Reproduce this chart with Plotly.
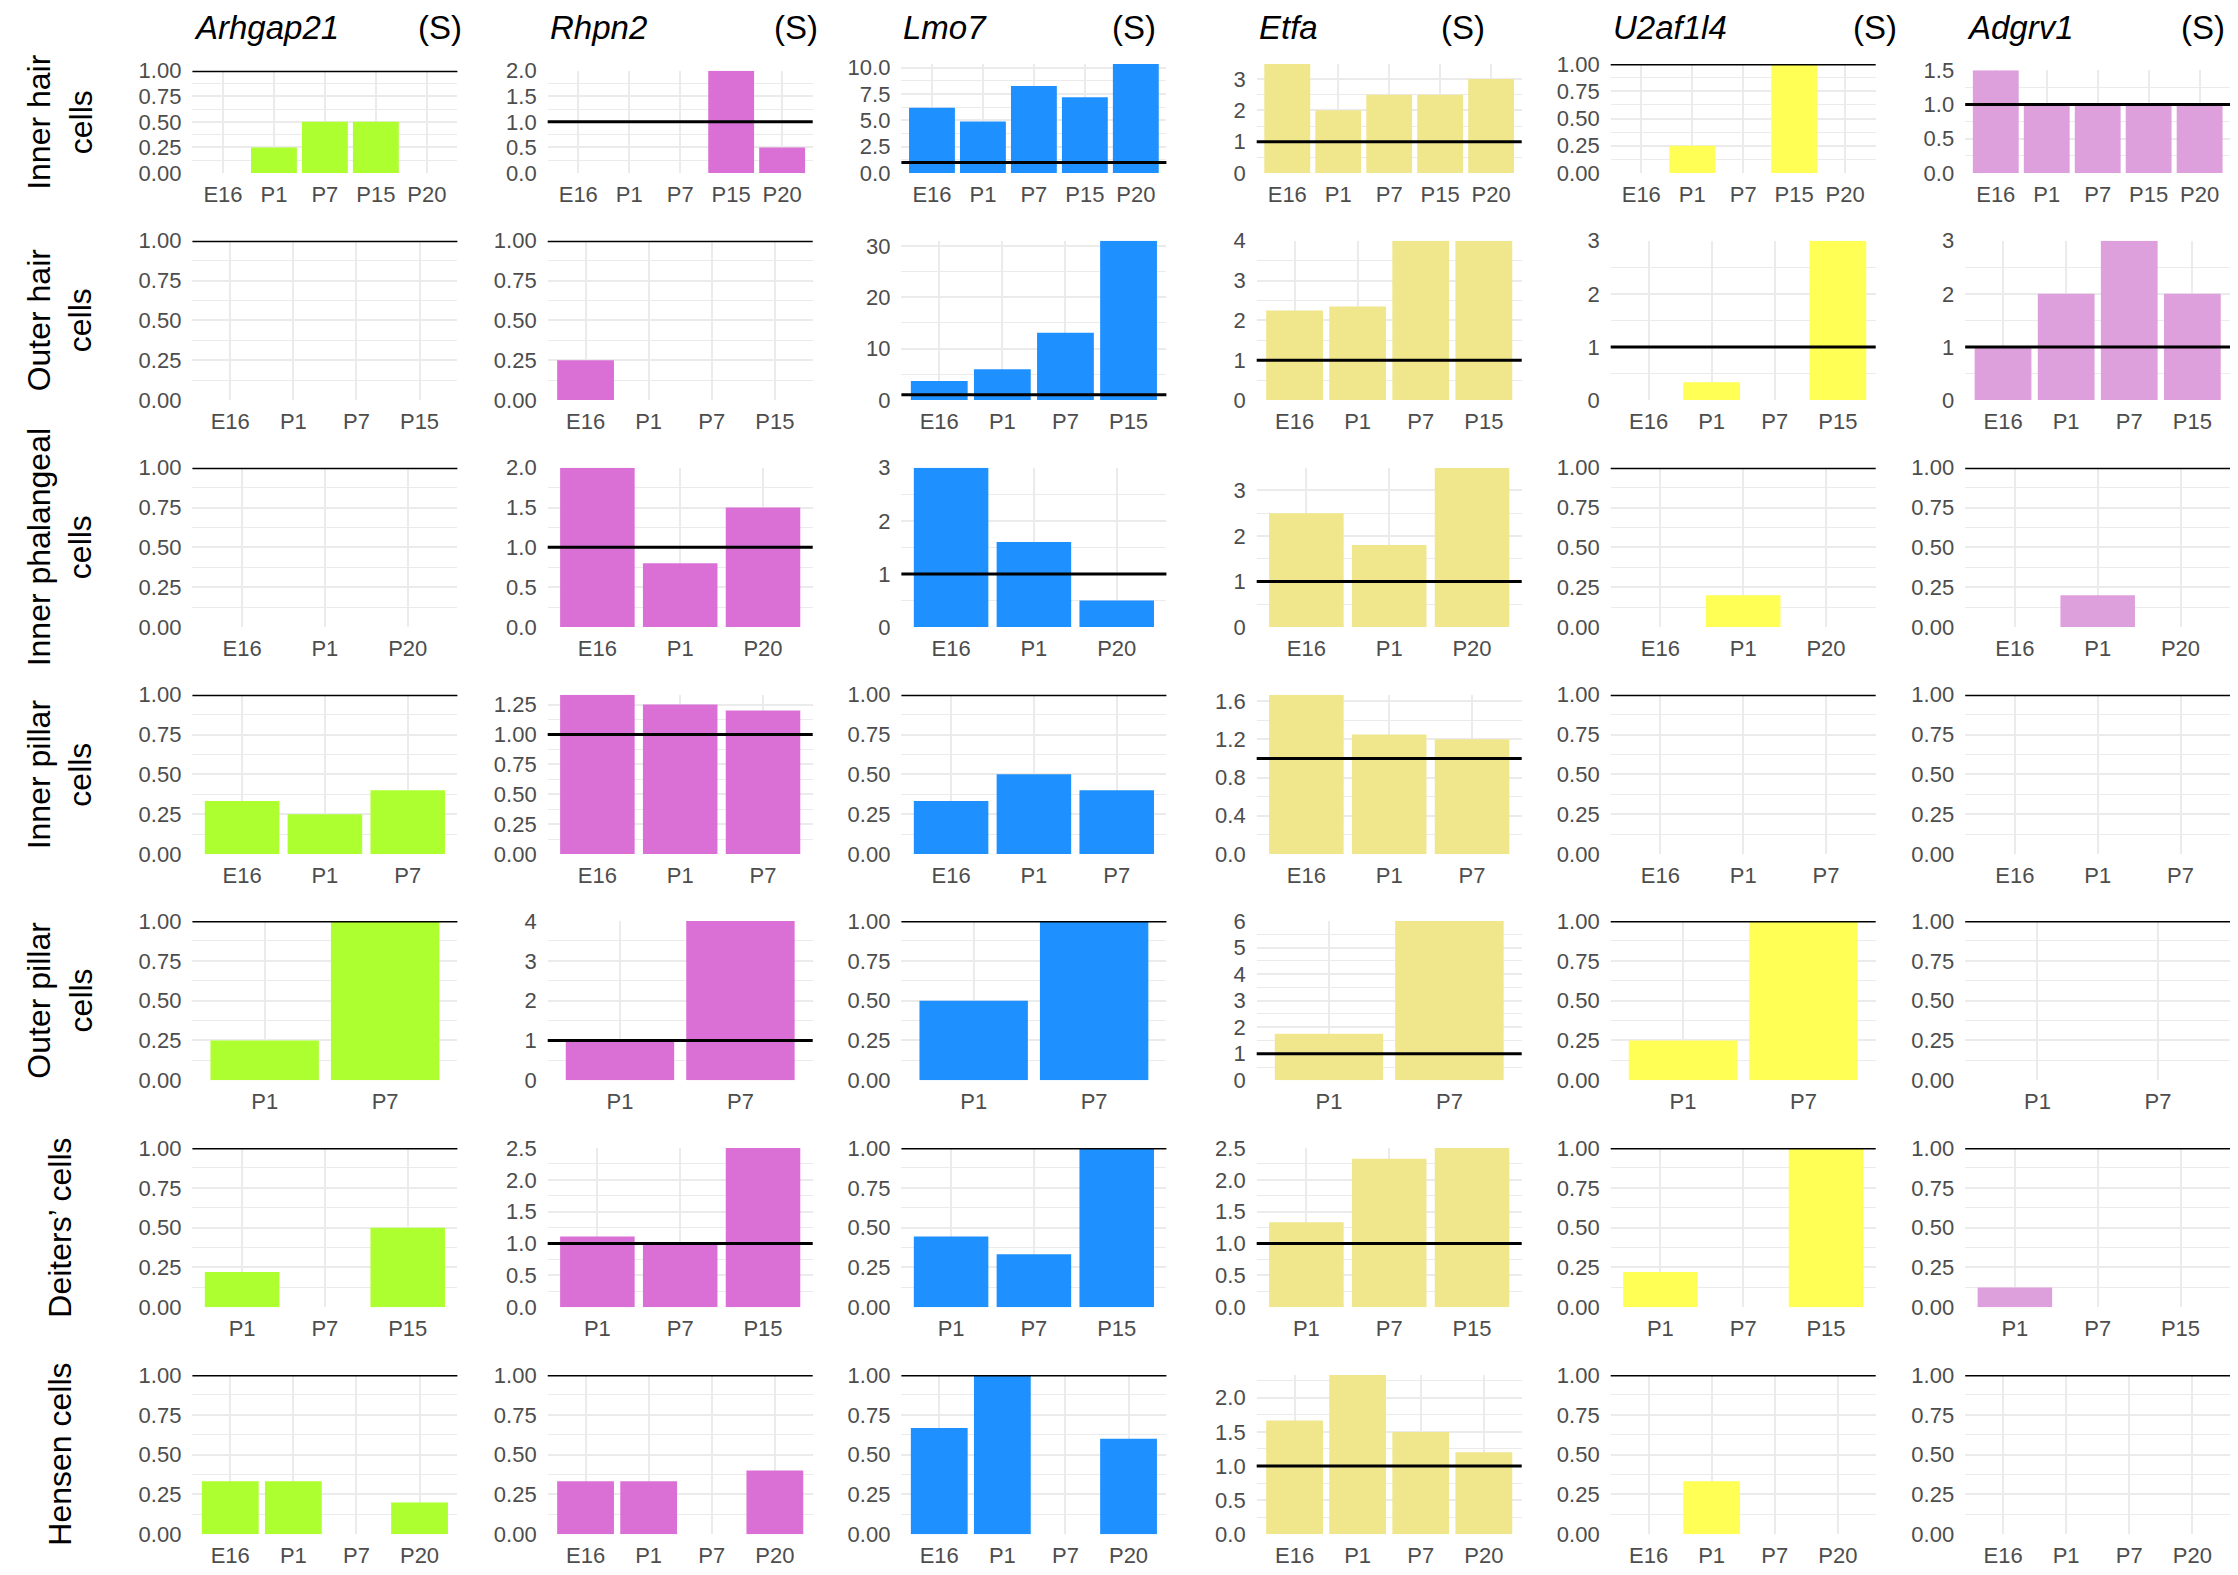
import plotly.graph_objects as go

W, H = 2238, 1575

genes = ["Arhgap21", "Rhpn2", "Lmo7", "Etfa", "U2af1l4", "Adgrv1"]
gene_tag = "(S)"
gene_colors = ["#ADFF2F", "#DA70D6", "#1E90FF", "#F0E68C", "#FFFF55", "#DDA0DD"]

cell_types = ["Inner hair<br>cells", "Outer hair<br>cells", "Inner phalangeal<br>cells",
              "Inner pillar<br>cells", "Outer pillar<br>cells", "Deiters’ cells", "Hensen cells"]

stages = [
    ["E16", "P1", "P7", "P15", "P20"],   # Inner hair cells
    ["E16", "P1", "P7", "P15"],          # Outer hair cells
    ["E16", "P1", "P20"],                # Inner phalangeal cells
    ["E16", "P1", "P7"],                 # Inner pillar cells
    ["P1", "P7"],                        # Outer pillar cells
    ["P1", "P7", "P15"],                 # Deiters' cells
    ["E16", "P1", "P7", "P20"],          # Hensen cells
]

arhgap21 = [[0, 0.25, 0.5, 0.5, 0], [0, 0, 0, 0], [0, 0, 0], [0.333, 0.25, 0.4],
            [0.25, 1.0], [0.222, 0, 0.5], [0.333, 0.333, 0, 0.2]]
rhpn2 = [[0, 0, 0, 2.0, 0.5], [0.25, 0, 0, 0], [2.0, 0.8, 1.5], [1.333, 1.25, 1.2],
         [1.0, 4.0], [1.111, 1.0, 2.5], [0.333, 0.333, 0, 0.4]]
lmo7 = [[6.2, 4.9, 8.25, 7.2, 10.35], [3.7, 6.0, 13.1, 31.0], [3.0, 1.6, 0.5], [0.333, 0.5, 0.4],
        [0.5, 1.0], [0.444, 0.333, 1.0], [0.667, 1.0, 0, 0.6]]
etfa = [[3.48, 2.0, 2.5, 2.5, 3.0], [2.25, 2.35, 4.0, 4.0], [2.5, 1.8, 3.5], [1.667, 1.25, 1.2],
        [1.75, 6.0], [1.333, 2.333, 2.5], [1.667, 2.333, 1.5, 1.2]]
u2af1l4 = [[0, 0.25, 0, 1.0, 0], [0, 0.333, 0, 3.0], [0, 0.2, 0], [0, 0, 0],
           [0.25, 1.0], [0.222, 0, 1.0], [0, 0.333, 0, 0]]
adgrv1 = [[1.5, 1.0, 1.0, 1.0, 1.0], [1.0, 2.0, 3.0, 2.0], [0, 0.2, 0], [0, 0, 0],
          [0, 0], [0.125, 0, 0], [0, 0, 0, 0]]
gene_values = [arhgap21, rhpn2, lmo7, etfa, u2af1l4, adgrv1]

reference_level = 1.0

# y tick steps per panel [row][col]
tick_steps = [
    [0.25, 0.5, 2.5, 1, 0.25, 0.5],
    [0.25, 0.25, 10, 1, 1, 1],
    [0.25, 0.5, 1, 1, 0.25, 0.25],
    [0.25, 0.25, 0.25, 0.4, 0.25, 0.25],
    [0.25, 1, 0.25, 1, 0.25, 0.25],
    [0.25, 0.5, 0.25, 0.5, 0.25, 0.25],
    [0.25, 0.25, 0.25, 0.5, 0.25, 0.25],
]

# ---- geometry (pixels in the screenshot) ----
OFF = 8  # page body margin
col_left = [192.4, 547.7, 901.4, 1256.7, 1610.7, 1965.2]
panel_w = 265.0
row_top = [None, 240.7, 467.7, 694.7, 921.0, 1148.0, 1375.0]
panel_h = 159.3
row1_top = [70.7, 70.7, 64.0, 64.0, 64.0, 70.3]
row1_bottom = 173.0
tag_right = [464, 820, 1158, 1486.5, 1899, 2227]


def px(x):
    return (x - OFF) / W


def py(y):
    return 1 - (y - OFF) / H


FONT = "Liberation Sans, Arial, sans-serif"
GRID = "#EBEBEB"
TICKC = "#4D4D4D"

fig = go.Figure()
layout = dict(width=W, height=H, margin=dict(l=0, r=0, t=0, b=0, pad=0),
              paper_bgcolor="white", plot_bgcolor="white", bargap=0.1,
              showlegend=False, font=dict(family=FONT))
shapes, annotations = [], []


def fmt_for(step):
    if step >= 1 and float(step).is_integer():
        return ".0f"
    if abs(step * 10 - round(step * 10)) < 1e-9:
        return ".1f"
    return ".2f"


for r in range(7):
    cats = stages[r]
    for c in range(6):
        k = r * 6 + c + 1
        xa = "x" if k == 1 else f"x{k}"
        ya = "y" if k == 1 else f"y{k}"
        vals = gene_values[c][r]
        left = col_left[c]
        if r == 0:
            top, bottom = row1_top[c], row1_bottom
        else:
            top, bottom = row_top[r], row_top[r] + panel_h
        xdom = [px(left), px(left + panel_w)]
        ydom = [py(bottom), py(top)]
        ymax = max(max(vals), reference_level)
        step = tick_steps[r][c]

        fig.add_trace(go.Bar(x=cats, y=vals, xaxis=xa, yaxis=ya,
                             marker=dict(color=gene_colors[c], line=dict(width=0)),
                             hoverinfo="skip"))

        layout["xaxis" if k == 1 else f"xaxis{k}"] = dict(
            domain=xdom, anchor=ya, type="category",
            categoryorder="array", categoryarray=cats,
            range=[-0.6, len(cats) - 0.4], automargin=False,
            showgrid=True, gridcolor=GRID, gridwidth=2.2,
            zeroline=False, showline=False, ticks="",
            tickfont=dict(family=FONT, size=22, color=TICKC),
            ticklabelstandoff=6, fixedrange=True)
        layout["yaxis" if k == 1 else f"yaxis{k}"] = dict(
            domain=ydom, anchor=xa, range=[0, ymax], automargin=False,
            tick0=0, dtick=step, tickformat=fmt_for(step),
            showgrid=True, gridcolor=GRID, gridwidth=2.2,
            minor=dict(dtick=step / 2, tick0=0, showgrid=True, gridcolor=GRID, gridwidth=1.1),
            zeroline=False, showline=False, ticks="",
            tickfont=dict(family=FONT, size=22, color=TICKC),
            ticklabelstandoff=10, fixedrange=True)

        shapes.append(dict(type="line", xref=f"{xa} domain", yref=ya,
                           x0=0, x1=1, y0=reference_level, y1=reference_level,
                           line=dict(color="black", width=3), layer="above"))

        if r == 0:
            annotations.append(dict(text=f"<i>{genes[c]}</i>", x=px(left), y=py(28),
                                    xref="paper", yref="paper", xanchor="left", yanchor="middle",
                                    showarrow=False,
                                    font=dict(family=FONT, size=33, color="black")))
            annotations.append(dict(text=gene_tag, x=px(tag_right[c]), y=py(28),
                                    xref="paper", yref="paper", xanchor="right", yanchor="middle",
                                    showarrow=False,
                                    font=dict(family=FONT, size=33, color="black")))
        if c == 0:
            annotations.append(dict(text=cell_types[r], x=px(60), y=py((top + bottom) / 2),
                                    xref="paper", yref="paper", xanchor="center", yanchor="middle",
                                    textangle=-90, showarrow=False,
                                    font=dict(family=FONT, size=32, color="black")))

layout["shapes"] = shapes
layout["annotations"] = annotations
fig.update_layout(**layout)
fig.write_html("out.html")
